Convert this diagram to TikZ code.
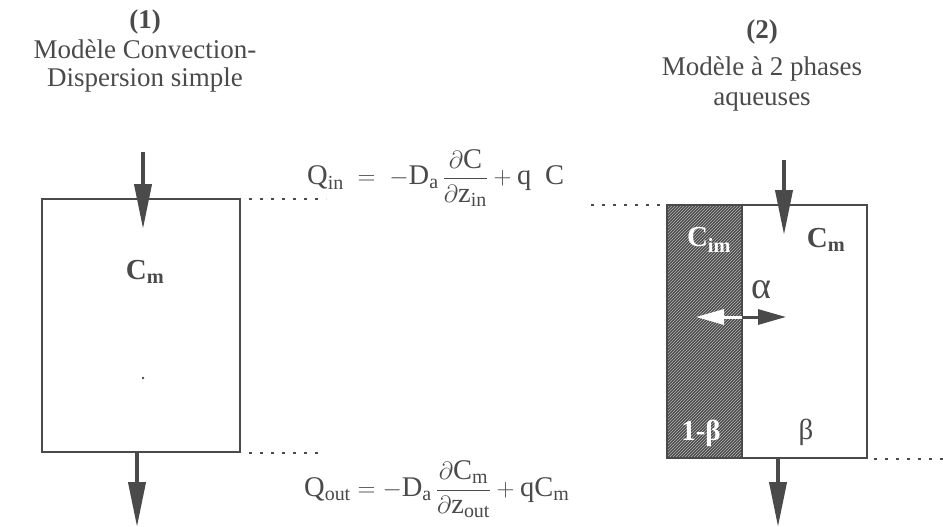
\documentclass[tikz,border=0pt]{standalone}
\usepackage{amsmath}
\usepackage{fontspec}
\setmainfont{Liberation Serif}
\usetikzlibrary{arrows.meta,patterns}
\definecolor{ink}{HTML}{4A4A4A}
\definecolor{hatchdark}{HTML}{4C4C4C}
\begin{document}
\begin{tikzpicture}[x=1pt,y=-1pt,
  every node/.style={text=ink,inner sep=0pt},
  title/.style={font=\fontsize{27}{28}\selectfont,align=center},
  boxline/.style={draw=ink,line width=2.4pt},
  dotline/.style={draw=ink,line width=2.5pt,dash pattern=on 3pt off 8pt},
  flow/.style={draw=ink,line width=4pt,-{Triangle[length=45pt,width=17pt]}},
  xarrow/.style={line width=3pt,-{Triangle[length=28pt,width=15pt]}},
  lab/.style={font=\fontsize{29}{30}\selectfont\bfseries},
  eq/.style={font=\fontsize{28.5}{32}\selectfont}]
\useasboundingbox (0,0) rectangle (943,527);
% titles
\node[title,font=\fontsize{27}{28}\selectfont\bfseries] (t1) at (145,22) {(1)};
\node[title] (t1b) at (145,66) {Modèle Convection-\\Dispersion simple};
\node[title,font=\fontsize{27}{28}\selectfont\bfseries] (t2) at (762,32) {(2)};
\node[title,font=\fontsize{27}{30}\selectfont] (t2b) at (762,84) {Modèle à 2 phases\\aqueuses};
% left box
\coordinate (b1nw) at (42,199);
\coordinate (b1se) at (240,452);
\draw[boxline] (b1nw) rectangle (b1se);
\node[lab] (cm1) at (145,272) {C\textsubscript{m}};
\fill[ink] (143,378) circle (1.4pt);
% right box
\coordinate (b2nw) at (667,205);
\coordinate (b2se) at (867,458);
\coordinate (hse) at (742,458);
\fill[hatchdark] (b2nw) rectangle (hse);
\fill[pattern=north east lines,pattern color=white!60!hatchdark] (b2nw) rectangle (hse);
\draw[boxline] (b2nw) rectangle (b2se);
\draw[boxline] (742,205) -- (hse);
\node[lab,text=white] (cim) at (709,240) {C\textsubscript{im}};
\node[lab] (cm2) at (826,240) {C\textsubscript{m}};
\node[lab,text=white] (ob) at (701,433) {1-β};
\node[font=\fontsize{29}{30}\selectfont] (be) at (806,432) {β};
\node[font=\fontsize{38}{40}\selectfont] (al) at (761,290) {α};
% exchange arrow
\coordinate (xc) at (742,317);
\coordinate (xl) at (696,317);
\coordinate (xr) at (786,317);
\draw[xarrow,draw=white,fill=white] (xc) -- (xl);
\draw[xarrow,draw=ink,fill=ink] (xc) -- (xr);
% flow arrows
\coordinate (a1s) at (143,152);
\coordinate (a1e) at (143,229);
\coordinate (a2s) at (137,452);
\coordinate (a2e) at (137,527);
\coordinate (a3s) at (784,160);
\coordinate (a3e) at (784,235);
\coordinate (a4s) at (778,458);
\coordinate (a4e) at (778,527);
\draw[flow] (a1s) -- (a1e);
\draw[flow] (a2s) -- (a2e);
\draw[flow] (a3s) -- (a3e);
\draw[flow] (a4s) -- (a4e);
% dotted lines
\coordinate (d1a) at (249,199);
\coordinate (d1b) at (326,199);
\coordinate (d2a) at (249,453);
\coordinate (d2b) at (322,453);
\coordinate (d3a) at (591,205);
\coordinate (d3b) at (664,205);
\coordinate (d4a) at (874,459);
\coordinate (d4b) at (943,459);
\draw[dotline] (d1a) -- (d1b);
\draw[dotline] (d2a) -- (d2b);
\draw[dotline] (d3a) -- (d3b);
\draw[dotline] (d4a) -- (d4b);
% equations
\node[eq,anchor=west] (qin) at (307,178) {$\mathrm{Q}_{\mathrm{in}} \;=\; -\mathrm{D}_{\mathrm{a}}\,\dfrac{\partial \mathrm{C}}{\partial \mathrm{z}_{\mathrm{in}}} + \mathrm{q}\;\;\mathrm{C}$};
\node[eq,anchor=west] (qout) at (304,489) {$\mathrm{Q}_{\mathrm{out}} = -\mathrm{D}_{\mathrm{a}}\,\dfrac{\partial \mathrm{C}_{\mathrm{m}}}{\partial \mathrm{z}_{\mathrm{out}}} + \mathrm{q}\mathrm{C}_{\mathrm{m}}$};
\end{tikzpicture}
\end{document}
